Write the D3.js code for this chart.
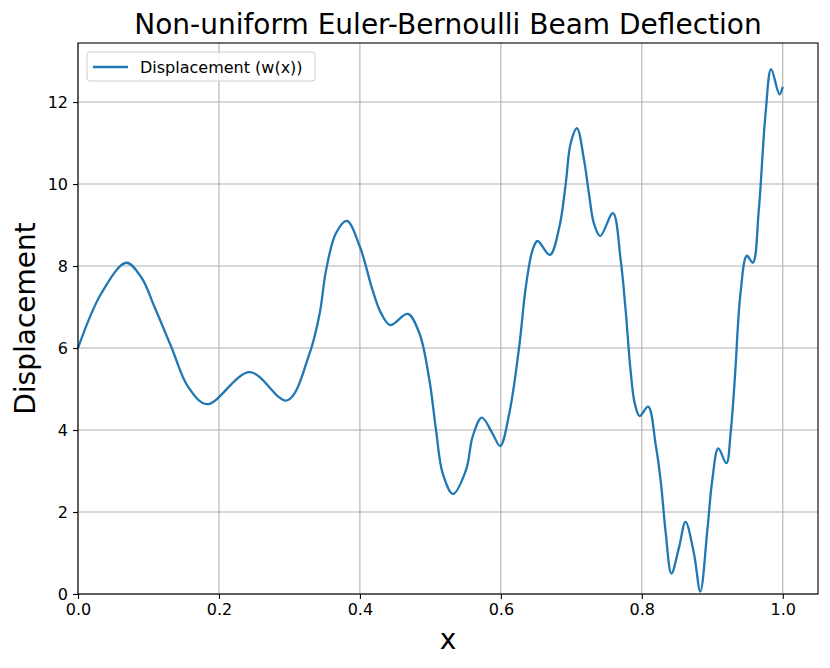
<!DOCTYPE html>
<html>
<head>
    <meta charset="UTF-8">
    <title>Beam Deflection</title>
    <style>
        body { margin: 0; background: #fff; }
        text { font-family: "DejaVu Sans", sans-serif; }
    </style>
</head>
<body>
    <div id="chart"></div>

    <script src="https://d3js.org/d3.v7.min.js"></script>
    <script>
        // data
        var xs = [0, 0.033, 0.0685, 0.09, 0.1086, 0.133, 0.156, 0.183, 0.2436, 0.2965, 0.3286, 0.343, 0.352, 0.366, 0.3815,
            0.4, 0.418, 0.43, 0.443, 0.468, 0.4844, 0.4986, 0.508, 0.5175, 0.532, 0.5505, 0.56, 0.573, 0.588, 0.599,
            0.612, 0.626, 0.6355, 0.645, 0.652, 0.6695, 0.683, 0.692, 0.699, 0.708, 0.718, 0.725, 0.732, 0.741, 0.759,
            0.77, 0.777, 0.784, 0.79, 0.797, 0.809, 0.8197, 0.8267, 0.834, 0.842, 0.853, 0.862, 0.874, 0.883, 0.893,
            0.9, 0.9085, 0.92, 0.926, 0.932, 0.94, 0.949, 0.9575, 0.966, 0.9755, 0.9835, 0.9953, 1.0];
        var ws = [6.0, 7.33, 8.08, 7.72, 7.0, 6.0, 5.06, 4.63, 5.41, 4.72, 5.87, 6.85, 7.9, 8.8, 9.1,
            8.47, 7.41, 6.85, 6.56, 6.83, 6.36, 5.22, 4.0, 2.94, 2.44, 3.02, 3.84, 4.3, 3.92, 3.61,
            4.41, 6.03, 7.5, 8.39, 8.61, 8.27, 8.95, 10.0, 10.99, 11.36, 10.59, 9.77, 9.04, 8.73, 9.29,
            8.15, 6.93, 5.46, 4.65, 4.34, 4.57, 3.64, 2.78, 1.48, 0.5, 1.15, 1.76, 0.99, 0.06, 1.56,
            2.78, 3.55, 3.19, 3.92, 5.26, 7.33, 8.25, 8.08, 9.37, 11.7, 12.8, 12.19, 12.37];
        var xTicks = [0, 0.2, 0.4, 0.6, 0.8, 1.0];
        var yTicks = [0, 2, 4, 6, 8, 10, 12];

        var width = 830, height = 668;
        var margin = { top: 43, right: 12, bottom: 74, left: 78 };
        var plotW = width - margin.left - margin.right;
        var plotH = height - margin.top - margin.bottom;

        var svg = d3.select("#chart").append("svg")
            .attr("width", width)
            .attr("height", height);

        var x = d3.scaleLinear().domain([0, 1.05]).range([0, plotW]);
        var y = d3.scaleLinear().domain([0, 13.44]).range([plotH, 0]);

        var g = svg.append("g")
            .attr("transform", "translate(" + margin.left + "," + margin.top + ")");

        // grid
        g.append("g").selectAll("line").data(xTicks).enter().append("line")
            .attr("x1", d => x(d)).attr("x2", d => x(d))
            .attr("y1", 0).attr("y2", plotH)
            .style("stroke", "#b0b0b0").style("stroke-width", 1.1);
        g.append("g").selectAll("line").data(yTicks).enter().append("line")
            .attr("y1", d => y(d)).attr("y2", d => y(d))
            .attr("x1", 0).attr("x2", plotW)
            .style("stroke", "#b0b0b0").style("stroke-width", 1.1);

        // curve
        var pts = xs.map((v, i) => [v, ws[i]]);
        var line = d3.line()
            .x(d => x(d[0]))
            .y(d => y(d[1]))
            .curve(d3.curveCatmullRom.alpha(0.5));
        g.append("path")
            .datum(pts)
            .attr("d", line)
            .style("fill", "none")
            .style("stroke", "#1f77b4")
            .style("stroke-width", 2.3)
            .style("stroke-linejoin", "round");

        // axes
        var xAxis = g.append("g")
            .attr("transform", "translate(0," + plotH + ")")
            .call(d3.axisBottom(x).tickValues(xTicks).tickFormat(d3.format(".1f")).tickSizeOuter(0).tickSize(5).tickPadding(5));
        var yAxis = g.append("g")
            .call(d3.axisLeft(y).tickValues(yTicks).tickFormat(d3.format("d")).tickSizeOuter(0).tickSize(5).tickPadding(5));
        [xAxis, yAxis].forEach(function (a) {
            a.select(".domain").remove();
            a.selectAll("text").style("font-size", "16px").style("fill", "#000")
                .style("font-family", "'DejaVu Sans', sans-serif");
            a.selectAll("line").style("stroke", "#000").style("stroke-width", 1.1);
        });

        // frame
        g.append("rect")
            .attr("width", plotW).attr("height", plotH)
            .style("fill", "none").style("stroke", "#000").style("stroke-width", 1.1);

        // titles
        svg.append("text")
            .attr("x", margin.left + plotW / 2).attr("y", 34)
            .attr("text-anchor", "middle")
            .style("font-size", "28px")
            .text("Non-uniform Euler-Bernoulli Beam Deflection");
        svg.append("text")
            .attr("x", margin.left + plotW / 2).attr("y", 649)
            .attr("text-anchor", "middle")
            .style("font-size", "28px")
            .text("x");
        svg.append("text")
            .attr("transform", "translate(35," + (margin.top + plotH / 2) + ") rotate(-90)")
            .attr("text-anchor", "middle")
            .style("font-size", "28px")
            .text("Displacement");

        // legend
        var lg = g.append("g").attr("transform", "translate(9,9)");
        lg.append("rect")
            .attr("width", 228).attr("height", 29).attr("rx", 3)
            .style("fill", "#fff").style("fill-opacity", 0.8)
            .style("stroke", "#cccccc").style("stroke-width", 1);
        lg.append("line")
            .attr("x1", 6).attr("x2", 41).attr("y1", 15).attr("y2", 15)
            .style("stroke", "#1f77b4").style("stroke-width", 2.3);
        lg.append("text")
            .attr("x", 53).attr("y", 21)
            .style("font-size", "16px")
            .text("Displacement (w(x))");
    </script>
</body>
</html>
